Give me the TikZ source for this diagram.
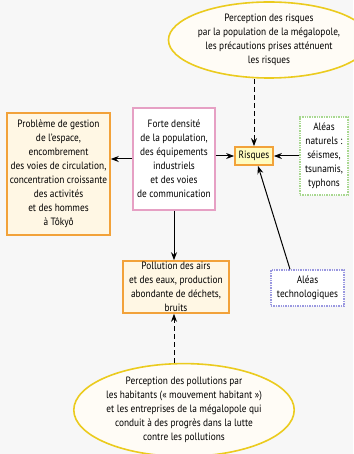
\documentclass[tikz,border=0pt]{standalone}
\usepackage{fontspec}
\setmainfont{PT Sans}[FakeStretch=0.88]
\usepackage{tikz}
\usetikzlibrary{shapes,arrows.meta}
\definecolor{orangecadre}{HTML}{F2A23A}
\definecolor{jaunecadre}{HTML}{EBCB1E}
\definecolor{rosecadre}{HTML}{E6A0C4}
\definecolor{vertcadre}{HTML}{A8D890}
\definecolor{bleucadre}{HTML}{9A98E0}
\definecolor{creme}{HTML}{FFF7E4}
\tikzstyle{texte}=[align=center, inner sep=0pt, font=\fontsize{10.6}{14}\selectfont]
\tikzstyle{cadreorange}=[texte, draw=orangecadre, line width=1.6pt, fill=creme]
\tikzstyle{bulle}=[texte, ellipse, draw=jaunecadre, line width=1.6pt, fill=creme!35!white]
\tikzstyle{fleche}=[-{Stealth[length=8pt,width=6pt]}, line width=1pt]
\tikzstyle{pointille}=[dash pattern=on 5pt off 3pt]
\begin{document}
\begin{tikzpicture}[x=1pt,y=-1pt]
	\fill[white!97!black] (0,0) rectangle (353,454);
	\useasboundingbox (0,0) rectangle (353,454);
	\node[bulle, minimum width=166pt, minimum height=76pt] (perception) at (269,40) {Perception des risques\\par la population de la mégalopole,\\les précautions prises atténuent\\les risques};
	\node[cadreorange, minimum width=103pt, minimum height=122pt] (probleme) at (58.5,174) {Problème de gestion\\de l’espace,\\encombrement\\des voies de circulation,\\concentration croissante\\des activités\\et des hommes\\à Tôkyô};
	\node[texte, draw=rosecadre, line width=1.4pt, fill=white, minimum width=82pt, minimum height=102pt] (densite) at (174,159) {Forte densité\\de la population,\\des équipements\\industriels\\et des voies\\de communication};
	\node[texte, draw=orangecadre, line width=1.8pt, fill=yellow!25!white, minimum width=38pt, minimum height=18pt] (risques) at (254,156) {Risques};
	\node[texte, draw=vertcadre, densely dotted, line width=1.4pt, fill=white, minimum width=48pt, minimum height=78pt] (naturels) at (324,156) {Aléas\\naturels :\\séismes,\\tsunamis,\\typhons};
	\node[cadreorange, minimum width=106pt, minimum height=52pt] (pollution) at (176,287) {Pollution des airs\\et des eaux, production\\abondante de déchets,\\bruits};
	\node[texte, draw=bleucadre, densely dotted, line width=1.4pt, fill=white, minimum width=73pt, minimum height=36pt] (techno) at (307.5,288) {Aléas\\technologiques};
	\node[bulle, minimum width=168pt, minimum height=88pt] (habitants) at (184,410) {Perception des pollutions par\\les habitants («~mouvement habitant~»)\\et les entreprises de la mégalopole qui\\conduit à des progrès dans la lutte\\contre les pollutions};
	\draw[fleche, pointille] (risques.north |- perception.south) -- (risques.north);
	\draw[fleche] (densite.east |- risques.west) -- (risques.west);
	\draw[fleche] (naturels.west) -- (risques.east);
	\draw[fleche] (techno.north -| 290,0) -- (risques.south -| 258,0);
	\draw[fleche] (densite.west) -- (probleme.east |- densite.west);
	\draw[fleche] (densite.south) -- (densite.south |- pollution.north);
	\draw[fleche, pointille] (densite.south |- habitants.north) -- (densite.south |- pollution.south);
\end{tikzpicture}
\end{document}
